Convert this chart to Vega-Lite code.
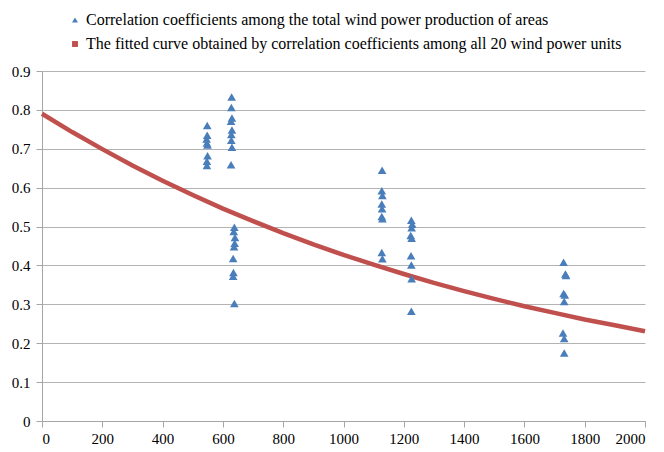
{
  "$schema": "https://vega.github.io/schema/vega-lite/v6.json",
  "width": 603,
  "height": 350,
  "autosize": {"type": "none"},
  "padding": {"left": 42, "top": 71, "right": 19, "bottom": 31},
  "background": "white",
  "config": {
    "view": {"stroke": null},
    "axis": {
      "labelFont": "Liberation Serif, Times New Roman, serif",
      "labelFontSize": 15,
      "labelColor": "#000000",
      "gridColor": "#b3b3b3",
      "gridWidth": 1,
      "domainColor": "#a6a6a6",
      "tickColor": "#a6a6a6",
      "tickSize": 6,
      "labelOverlap": false,
      "title": null
    }
  },
  "datasets": {
    "points": [
      {"x": 548, "y": 0.76}, {"x": 548, "y": 0.735}, {"x": 546, "y": 0.725}, {"x": 547, "y": 0.715},
      {"x": 549, "y": 0.71}, {"x": 549, "y": 0.682}, {"x": 547, "y": 0.668}, {"x": 547, "y": 0.657},
      {"x": 629, "y": 0.833}, {"x": 628, "y": 0.806}, {"x": 630, "y": 0.779}, {"x": 627, "y": 0.771},
      {"x": 630, "y": 0.748}, {"x": 628, "y": 0.737}, {"x": 628, "y": 0.722}, {"x": 630, "y": 0.704},
      {"x": 627, "y": 0.659},
      {"x": 638, "y": 0.498}, {"x": 636, "y": 0.487}, {"x": 640, "y": 0.472}, {"x": 639, "y": 0.457},
      {"x": 637, "y": 0.448}, {"x": 634, "y": 0.418}, {"x": 635, "y": 0.382}, {"x": 634, "y": 0.372},
      {"x": 638, "y": 0.302},
      {"x": 1128, "y": 0.645}, {"x": 1127, "y": 0.592}, {"x": 1129, "y": 0.58}, {"x": 1127, "y": 0.558},
      {"x": 1128, "y": 0.546}, {"x": 1127, "y": 0.526}, {"x": 1129, "y": 0.52}, {"x": 1127, "y": 0.433},
      {"x": 1129, "y": 0.417},
      {"x": 1225, "y": 0.516}, {"x": 1228, "y": 0.506}, {"x": 1226, "y": 0.497}, {"x": 1223, "y": 0.477},
      {"x": 1226, "y": 0.47}, {"x": 1224, "y": 0.425}, {"x": 1225, "y": 0.401}, {"x": 1226, "y": 0.366},
      {"x": 1225, "y": 0.282},
      {"x": 1730, "y": 0.408}, {"x": 1736, "y": 0.378}, {"x": 1738, "y": 0.374}, {"x": 1730, "y": 0.328},
      {"x": 1734, "y": 0.324}, {"x": 1732, "y": 0.307}, {"x": 1728, "y": 0.226}, {"x": 1732, "y": 0.212},
      {"x": 1732, "y": 0.175}
    ],
    "curve": [
      {"x": 0, "y": 0.79}, {"x": 100, "y": 0.743}, {"x": 200, "y": 0.699}, {"x": 300, "y": 0.657},
      {"x": 400, "y": 0.618}, {"x": 500, "y": 0.581}, {"x": 600, "y": 0.546}, {"x": 700, "y": 0.514},
      {"x": 800, "y": 0.483}, {"x": 900, "y": 0.454}, {"x": 1000, "y": 0.427}, {"x": 1100, "y": 0.402},
      {"x": 1200, "y": 0.378}, {"x": 1300, "y": 0.355}, {"x": 1400, "y": 0.334}, {"x": 1500, "y": 0.314},
      {"x": 1600, "y": 0.295}, {"x": 1700, "y": 0.278}, {"x": 1800, "y": 0.261}, {"x": 1900, "y": 0.246},
      {"x": 2000, "y": 0.231}
    ]
  },
  "encoding": {
    "x": {"field": "x", "type": "quantitative", "scale": {"domain": [0, 2000], "nice": false},
          "axis": {"values": [0,200,400,600,800,1000,1200,1400,1600,1800,2000], "format": "d", "grid": false, "labelPadding": 4,
                   "labelFont": "Liberation Serif, Times New Roman, serif", "labelFontSize": 15}},
    "y": {"field": "y", "type": "quantitative", "scale": {"domain": [0, 0.9], "nice": false},
          "axis": {"values": [0,0.1,0.2,0.3,0.4,0.5,0.6,0.7,0.8,0.9], "format": "~g", "labelPadding": 6,
                   "labelFont": "Liberation Serif, Times New Roman, serif", "labelFontSize": 15}}
  },
  "layer": [
    {
      "data": {"name": "curve"},
      "mark": {"type": "line", "color": "#c0504d", "strokeWidth": 4.5}
    },
    {
      "data": {"name": "points"},
      "transform": [{"calculate": "'Correlation coefficients among the total wind power production of areas'", "as": "series"}],
      "mark": {"type": "point", "filled": true, "opacity": 1, "size": 75},
      "encoding": {
        "color": {"field": "series", "type": "nominal",
          "scale": {"domain": ["Correlation coefficients among the total wind power production of areas", "The fitted curve obtained by correlation coefficients among all 20 wind power units"],
                    "range": ["#4a7ebb", "#c0504d"]},
          "legend": {"orient": "none", "legendX": 25, "legendY": -59, "title": null,
                     "labelFont": "Liberation Serif, Times New Roman, serif", "labelFontSize": 16, "labelColor": "#000000",
                     "symbolSize": 35, "rowPadding": 8, "labelLimit": 700, "symbolOffset": 0, "labelOffset": 3}},
        "shape": {"field": "series", "type": "nominal",
          "scale": {"domain": ["Correlation coefficients among the total wind power production of areas", "The fitted curve obtained by correlation coefficients among all 20 wind power units"],
                    "range": ["triangle-up", "square"]},
          "legend": {"orient": "none", "legendX": 25, "legendY": -59, "title": null,
                     "labelFont": "Liberation Serif, Times New Roman, serif", "labelFontSize": 16, "labelColor": "#000000",
                     "symbolSize": 35, "rowPadding": 8, "labelLimit": 700, "symbolOffset": 0, "labelOffset": 3}}
      }
    }
  ]
}
